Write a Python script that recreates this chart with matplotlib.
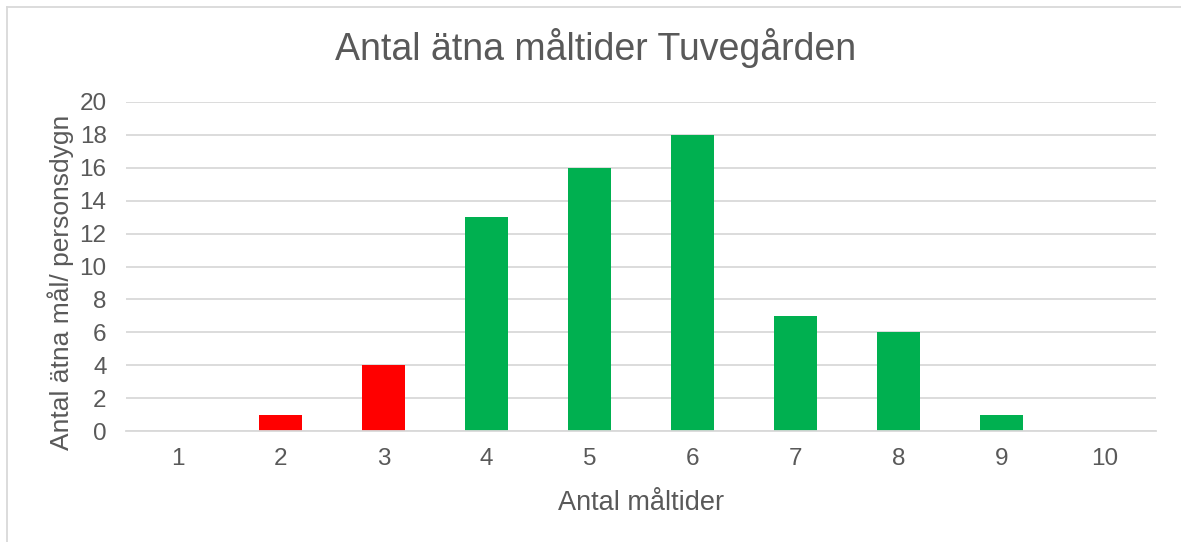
import matplotlib.pyplot as plt
from matplotlib.lines import Line2D

plt.rcParams['font.family'] = ['Liberation Sans', 'DejaVu Sans']

# Antal ätna måltider per personsdygn
maltider = [1, 2, 3, 4, 5, 6, 7, 8, 9, 10]
antal = [0, 1, 4, 13, 16, 18, 7, 6, 1, 0]
farger = ['#ff0000' if m <= 3 else '#00b050' for m in maltider]

text_color = '#595959'
grid_color = '#d9d9d9'

fig = plt.figure(figsize=(11.81, 5.42), dpi=100)
ax = fig.add_axes([126 / 1181, 111 / 542, 1030 / 1181, 329 / 542])

ax.bar(maltider, antal, width=0.41, color=farger, zorder=3)

ax.set_xlim(0.5, 10.5)
ax.set_ylim(0, 20)
ax.set_yticks(range(0, 21, 2))
ax.set_xticks(maltider)
ax.yaxis.grid(True, color=grid_color, linewidth=1.3, zorder=0)

for side in ['top', 'right', 'left']:
    ax.spines[side].set_visible(False)
ax.spines['bottom'].set_color(grid_color)
ax.spines['bottom'].set_linewidth(1.3)
ax.spines['bottom'].set_zorder(4)

ax.tick_params(axis='both', length=0, labelsize=17.5, labelcolor=text_color)
ax.tick_params(axis='y', pad=14)
ax.tick_params(axis='x', pad=12)

ax.set_xlabel('Antal måltider', fontsize=19.5, color=text_color, labelpad=15)
ax.set_ylabel('Antal ätna mål/ personsdygn', fontsize=19, color=text_color)
ax.yaxis.set_label_coords(-0.05, 0.453)

fig.text(596 / 1181, 1 - 48 / 542, 'Antal ätna måltider Tuvegården',
         ha='center', va='center', fontsize=27, color=text_color)

# chart frame, left and top edges
fig.add_artist(Line2D([6.5 / 1181, 6.5 / 1181], [0, 1 - 6.5 / 542],
                      transform=fig.transFigure, color=grid_color, linewidth=1.3))
fig.add_artist(Line2D([6.5 / 1181, 1], [1 - 6.5 / 542, 1 - 6.5 / 542],
                      transform=fig.transFigure, color=grid_color, linewidth=1.3))

fig.savefig('out.png', dpi=100)
